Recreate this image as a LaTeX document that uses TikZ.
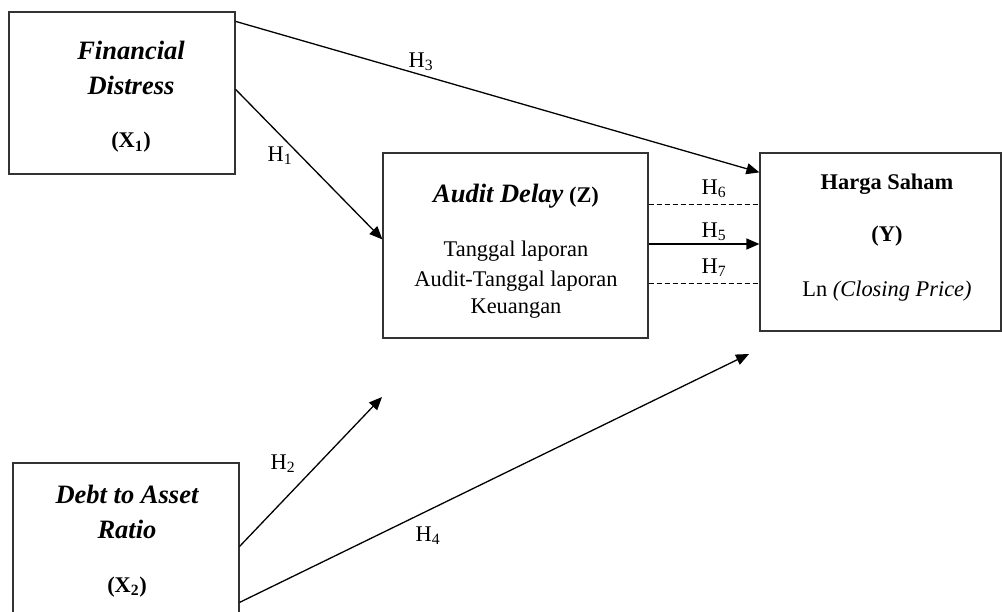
\documentclass[tikz,border=0pt]{standalone}
\usepackage{fontspec}
\setmainfont{Liberation Serif}
\usetikzlibrary{calc,positioning,arrows.meta}

\newcommand{\titlefont}{\fontsize{26.5}{31}\selectfont\bfseries\itshape}
\newcommand{\bodyfont}{\fontsize{22.4}{27}\selectfont}
\newcommand{\hyp}[1]{H\textsubscript{#1}}

\tikzset{
    varbox/.style={draw=black!80, line width=1.2pt, rectangle, inner sep=0pt},
    txt/.style={anchor=base, inner sep=0pt, font=\bodyfont},
    hlabel/.style={inner sep=0pt, font=\bodyfont},
    link/.style={line width=1.3pt, -{Triangle[length=13pt,width=11pt]}},
    dashlink/.style={line width=1pt, dash pattern=on 5pt off 3pt}
}

\begin{document}
\begin{tikzpicture}[x=1pt, y=-1pt]
    \useasboundingbox (0,0) rectangle (1002,612);

    % Boxes
    \node[varbox, minimum width=226pt, minimum height=162pt] (fd) at (122,93) {};
    \node[varbox, minimum width=226pt, minimum height=170pt] (dar) at (126,548) {};
    \node[varbox, minimum width=265pt, minimum height=185pt] (ad) at (515.5,245.5) {};
    \node[varbox, minimum width=241pt, minimum height=178pt] (hs) at (880.5,242) {};

    % Financial distress
    \node[txt, font=\titlefont] (fdA) at (131,60) {Financial};
    \node[txt, font=\titlefont] (fdB) at (131,95) {Distress};
    \node[txt, font=\bodyfont\bfseries] (fdC) at (131,148) {(X\textsubscript{1})};

    % Debt to asset ratio
    \node[txt, font=\titlefont] (darA) at (127,503) {Debt to Asset};
    \node[txt, font=\titlefont] (darB) at (127,538) {Ratio};
    \node[txt, font=\bodyfont\bfseries] (darC) at (127,592) {(X\textsubscript{2})};

    % Audit delay
    \node[txt] (adA) at (516,203) {{\titlefont Audit Delay} \textbf{(Z)}};
    \node[txt] (adB) at (516,257) {Tanggal laporan};
    \node[txt] (adC) at (516,287) {Audit-Tanggal laporan};
    \node[txt] (adD) at (516,314) {Keuangan};

    % Harga saham
    \node[txt, font=\bodyfont\bfseries] (hsA) at (887,190) {Harga Saham};
    \node[txt, font=\bodyfont\bfseries] (hsB) at (887,242) {(Y)};
    \node[txt] (hsC) at (887,297) {Ln \textit{(Closing Price)}};

    % Free arrow ends
    \coordinate (h2end) at (382,397);
    \coordinate (h4end) at (749,354);

    % Paths
    \draw[link] ([yshift=-10pt]fd.north east) -- ([yshift=-20pt]hs.north west);
    \draw[link] ([yshift=-78pt]fd.north east) -- ([yshift=-87pt]ad.north west);
    \draw[link] ([yshift=-84pt]dar.north east) -- (h2end);
    \draw[link] ([yshift=-140pt]dar.north east) -- (h4end);
    \draw[link] ([yshift=1.5pt]ad.east) -- ([yshift=1.5pt]ad.east -| hs.west);
    \draw[dashlink] ([yshift=41pt]ad.east) -- ([yshift=41pt]ad.east -| hs.west);
    \draw[dashlink] ([yshift=-38pt]ad.east) -- ([yshift=-38pt]ad.east -| hs.west);

    % Hypothesis labels
    \node[hlabel] (h1) at (280,156) {\hyp{1}};
    \node[hlabel] (h2) at (283,464) {\hyp{2}};
    \node[hlabel] (h3) at (421,62) {\hyp{3}};
    \node[hlabel] (h4) at (428,536) {\hyp{4}};
    \node[hlabel] (h5) at (714,232) {\hyp{5}};
    \node[hlabel] (h6) at (714,189) {\hyp{6}};
    \node[hlabel] (h7) at (714,268) {\hyp{7}};
\end{tikzpicture}
\end{document}
